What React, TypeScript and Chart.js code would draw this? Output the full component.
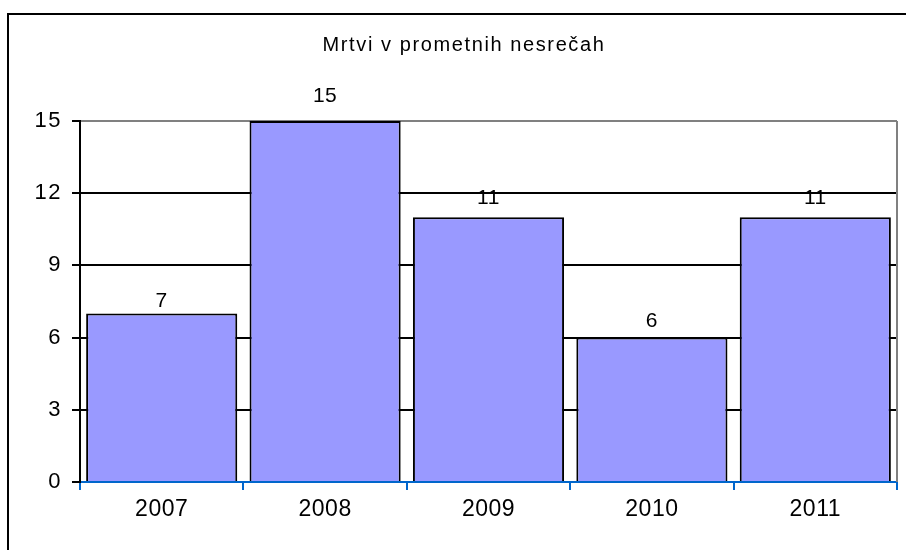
import React, { useEffect, useRef } from "react";
import { Chart, registerables } from "chart.js";

Chart.register(...registerables);

const chartTitle = "Mrtvi v prometnih nesrečah";
const years = ["2007", "2008", "2009", "2010", "2011"];
const deaths = [7, 15, 11, 6, 11];
const yMin = 0;
const yMax = 15;
const yStep = 3;

// label gap (px) above each bar, purely presentational
const labelGaps = [7, 19, 13, 11, 13];

const FONT = "'Liberation Sans', Arial, sans-serif";

export default function App() {
  const ref = useRef<HTMLCanvasElement | null>(null);

  useEffect(() => {
    const canvas = ref.current!;

    const framePlugin = {
      id: "frame",
      beforeDraw(chart: any) {
        const ctx = chart.ctx;
        ctx.save();
        ctx.fillStyle = "#ffffff";
        ctx.fillRect(0, 0, chart.width, chart.height);
        ctx.strokeStyle = "#000000";
        ctx.lineWidth = 2;
        ctx.beginPath();
        ctx.moveTo(8, 1000);
        ctx.lineTo(8, 14);
        ctx.lineTo(1000, 14);
        ctx.stroke();
        ctx.restore();
      },
      afterUpdate(chart: any) {
        const wrap = (scale: any, spacing: string) => {
          if (!scale || scale.__wrapped) return;
          const orig = scale.drawLabels.bind(scale);
          scale.drawLabels = (ca: any) => {
            const c = scale.ctx;
            const prev = c.letterSpacing;
            c.letterSpacing = spacing;
            orig(ca);
            c.letterSpacing = prev || "0px";
          };
          scale.__wrapped = true;
        };
        wrap(chart.scales.x, "0.5px");
        wrap(chart.scales.y, "1.5px");
      },
      beforeDatasetsDraw(chart: any) {
        const { ctx, chartArea } = chart;
        ctx.save();
        ctx.strokeStyle = "#808080";
        ctx.lineWidth = 2;
        ctx.beginPath();
        ctx.moveTo(chartArea.right, chartArea.top);
        ctx.lineTo(chartArea.right, chartArea.bottom);
        ctx.stroke();
        ctx.restore();
      },
      afterDatasetsDraw(chart: any) {
        const ctx = chart.ctx;
        const meta = chart.getDatasetMeta(0);
        ctx.save();
        ctx.letterSpacing = "0.5px";
        ctx.font = `21px ${FONT}`;
        ctx.fillStyle = "#000000";
        ctx.textAlign = "center";
        ctx.textBaseline = "alphabetic";
        meta.data.forEach((bar: any, i: number) => {
          ctx.fillText(String(deaths[i]), bar.x, bar.y - labelGaps[i]);
        });
        ctx.restore();
      },
      afterDraw(chart: any) {
        const ctx = chart.ctx;
        ctx.save();
        ctx.letterSpacing = "1.6px";
        ctx.font = `20px ${FONT}`;
        ctx.fillStyle = "#000000";
        ctx.textAlign = "center";
        ctx.textBaseline = "alphabetic";
        ctx.fillText(chartTitle, 464, 51);
        ctx.restore();
      },
    };

    const chart = new Chart(canvas, {
      type: "bar",
      data: {
        labels: years,
        datasets: [
          {
            data: deaths,
            backgroundColor: "#9999FF",
            borderColor: "#000000",
            borderWidth: 2,
            barPercentage: 0.925,
            categoryPercentage: 1,
          },
        ],
      },
      options: {
        responsive: false,
        animation: false,
        devicePixelRatio: 1,
        layout: { padding: { top: 121, right: 9, left: 0, bottom: 0 } },
        plugins: {
          legend: { display: false },
          title: { display: false },
          tooltip: { enabled: false },
        },
        scales: {
          x: {
            afterFit: (s: any) => {
              s.height = 68;
            },
            grid: {
              display: true,
              drawOnChartArea: false,
              offset: true,
              tickLength: 8,
              color: "#0066CC",
              lineWidth: 2,
            },
            border: { display: true, color: "#0066CC", width: 2 },
            ticks: {
              color: "#000000",
              padding: 6,
              font: { family: FONT, size: 23 },
            },
          },
          y: {
            min: yMin,
            max: yMax,
            afterFit: (s: any) => {
              s.width = 80;
            },
            grid: {
              tickLength: 8,
              lineWidth: 2,
              color: (c: any) =>
                c.tick && c.tick.value === yMax
                  ? "#808080"
                  : c.tick && c.tick.value === yMin
                  ? "rgba(0,0,0,0)"
                  : "#000000",
              tickColor: "#000000",
            },
            border: { display: true, color: "#000000", width: 2 },
            ticks: {
              stepSize: yStep,
              color: "#000000",
              padding: 10,
              font: { family: FONT, size: 22 },
            },
          },
        },
      },
      plugins: [framePlugin],
    });

    return () => chart.destroy();
  }, []);

  return (
    <div style={{ position: "fixed", left: 0, top: 0, width: 906, height: 550, background: "#fff" }}>
      <canvas ref={ref} width={906} height={550} style={{ display: "block", width: 906, height: 550 }} />
    </div>
  );
}
